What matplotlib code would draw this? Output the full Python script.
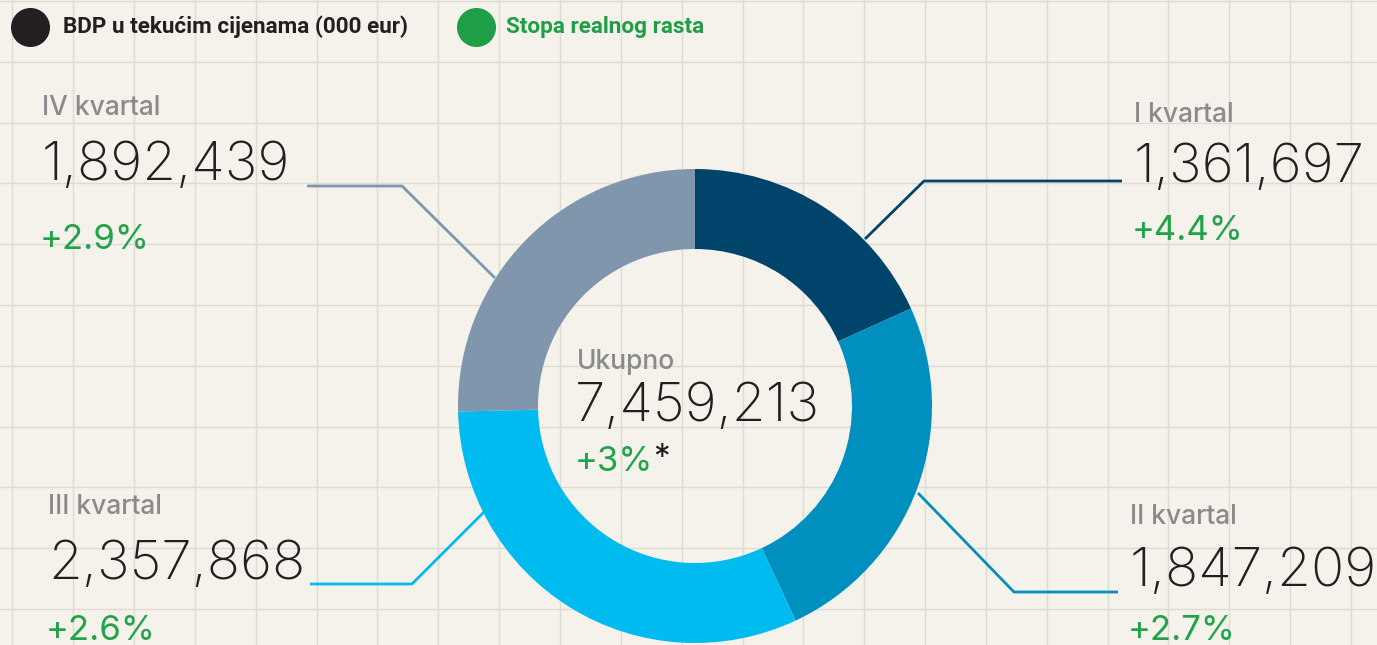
import matplotlib.pyplot as plt
import numpy as np

# data
quarters = ['I kvartal', 'II kvartal', 'III kvartal', 'IV kvartal']
gdp = [1361697, 1847209, 2357868, 1892439]
growth = [4.4, 2.7, 2.6, 2.9]
total = 7459213
total_growth = 3
colors = ['#00436b', '#0090bf', '#00bbef', '#7f96ad']

bg = '#f5f2ec'
green = '#21a34a'
dark = '#231f20'
gray = '#8a8a8a'
W, H = 1377, 645

fig = plt.figure(figsize=(W / 100, H / 100), dpi=100, facecolor=bg)
ax = fig.add_axes([0, 0, 1, 1])
ax.set_xlim(0, W)
ax.set_ylim(H, 0)
ax.axis('off')
ax.set_facecolor(bg)

# background grid
for gx in np.arange(12.3, W, 60.85):
    ax.axvline(gx, color='#dedad4', lw=1, zorder=0)
for gy in np.arange(1, H, 60.8):
    ax.axhline(gy, color='#dedad4', lw=1, zorder=0)

# donut in its own axes
cx, cy, R = 695, 406, 237
pax = fig.add_axes([(cx - R) / W, (H - cy - R) / H, 2 * R / W, 2 * R / H])
pax.pie(gdp, colors=colors, startangle=90, counterclock=False,
        wedgeprops=dict(width=80 / R, linewidth=0))
pax.set_xlim(-1, 1)
pax.set_ylim(-1, 1)
pax.set_aspect('equal')
pax.axis('off')

# leader lines (pixel layout)
leaders = [
    [(865, 239), (924, 181), (1122, 181)],
    [(918, 493), (1014, 592), (1118, 592)],
    [(484, 512), (412, 584), (310, 584)],
    [(495, 278), (402, 186), (307, 186)],
]
for pts, c in zip(leaders, colors):
    xs, ys = zip(*pts)
    ax.plot(xs, ys, color=c, lw=2, solid_capstyle='butt', zorder=2)

num_font = dict(family='Inter', weight='light')
lab_font = dict(family='Inter', weight=500)
pct_font = dict(family='Inter', weight='normal')

# label blocks: (x, y label, y value, y growth)
blocks = [
    (1134, 115, 168, 231),
    (1130, 517, 572, 631),
    (48, 507, 565, 631),
    (42, 108, 166, 240),
]
for (x, yl, yv, yg), q, v, g in zip(blocks, quarters, gdp, growth):
    ax.text(x, yl, q, color=gray, fontsize=19, va='center', ha='left', **lab_font)
    ax.text(x, yv, f'{v:,}', color=dark, fontsize=39.5, va='center', ha='left', **num_font)
    ax.text(x - 2, yg, f'+{g}%', color=green, fontsize=25, va='center', ha='left', **pct_font)

# center total
ax.text(577, 362, 'Ukupno', color=gray, fontsize=19, va='center', ha='left', **lab_font)
ax.text(575, 407, f'{total:,}', color=dark, fontsize=39.5, va='center', ha='left', **num_font)
t = ax.text(575, 462, f'+{total_growth}%', color=green, fontsize=25, va='center', ha='left', **pct_font)
ax.annotate('*', xycoords=t, xy=(1, 0.5), xytext=(0, 2), textcoords='offset points',
            color=dark, fontsize=24, va='center', ha='left', family='Inter')

# legend
ax.scatter([30], [27], s=790, color=dark, zorder=3, linewidths=0)
ax.text(63, 27, 'BDP u tekućim cijenama (000 eur)', color=dark, fontsize=16.2,
        fontweight='bold', va='center', ha='left', family='Roboto')
ax.scatter([476], [27], s=790, color='#1f9e48', zorder=3, linewidths=0)
ax.text(506, 27, 'Stopa realnog rasta', color='#1f9e48', fontsize=16.2,
        fontweight='bold', va='center', ha='left', family='Roboto')

fig.savefig('out.png', dpi=100, facecolor=bg)
